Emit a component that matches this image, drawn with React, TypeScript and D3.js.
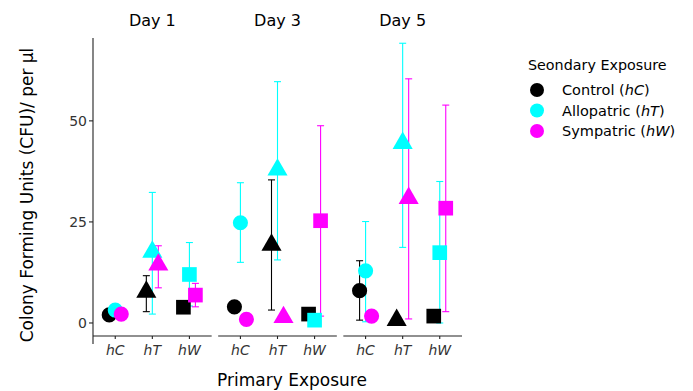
import * as d3 from "d3";

const days = ["Day 1", "Day 3", "Day 5"];
const primary = ["hC", "hT", "hW"];
const series = ["Control", "Allopatric", "Sympatric"];
const seriesCode = ["hC", "hT", "hW"];
const colors = ["#000000", "#00ffff", "#ff00ff"];

// [day][primary] means, lower and upper error bar ends (null = no bar)
const controlMean = [[2.0, 7.7, 3.9], [4.0, 19.3, 2.2], [8.0, 0.7, 1.7]];
const controlLow = [[null, 2.8, null], [null, 3.2, null], [0.7, null, null]];
const controlHigh = [[null, 11.7, null], [null, 35.4, null], [15.4, null, null]];

const alloMean = [[3.2, 17.6, 12.0], [24.8, 37.9, 0.7], [12.9, 44.5, 17.4]];
const alloLow = [[null, 2.2, 4.2], [15.0, 15.6, null], [0.3, 18.7, 0]];
const alloHigh = [[null, 32.3, 19.9], [34.7, 59.7, null], [25.1, 69.2, 35.0]];

const sympMean = [[2.2, 14.4, 6.9], [0.9, 1.4, 25.3], [1.7, 30.9, 28.4]];
const sympLow = [[null, 8.7, 4.0], [null, null, 1.7], [null, 1.0, 2.8]];
const sympHigh = [[null, 19.1, 9.8], [null, null, 48.8], [null, 60.4, 53.9]];

const yTicks = [0, 25, 50];

const means = [controlMean, alloMean, sympMean];
const lows = [controlLow, alloLow, sympLow];
const highs = [controlHigh, alloHigh, sympHigh];

type Row = { s: number; d: number; p: number; v: number; lo: number | null; hi: number | null };
const rows: Row[] = [];
series.forEach((_, s) =>
  days.forEach((_, d) =>
    primary.forEach((_, p) =>
      rows.push({ s, d, p, v: means[s][d][p], lo: lows[s][d][p], hi: highs[s][d][p] })
    )
  )
);

const FONT = "DejaVu Sans, Verdana, sans-serif";

export default function App() {
  const width = 693;
  const height = 391;
  const left = 93;
  const right = 462;
  const top = 38;
  const bottom = 344;
  const xAxisY = 336;

  const y = d3.scaleLinear().domain([-5.2, 70.5]).range([bottom, top]);
  const fx = d3.scaleBand().domain(days).range([left, right]).paddingInner(0.052);
  const bw = fx.bandwidth();
  const x = d3.scalePoint().domain(primary).range([0, bw]).padding(0.6);
  const dodge = d3.scalePoint().domain(series).range([-6, 6]);

  const shapes = [
    d3.symbol(d3.symbolCircle, 180)(),
    d3.symbol(d3.symbolTriangle, 175)(),
    d3.symbol(d3.symbolSquare, 215)(),
  ];

  const px = (r: Row) => (fx(days[r.d]) as number) + (x(primary[r.p]) as number) + (dodge(series[r.s]) as number);

  return (
    <svg width={width} height={height} style={{ position: "absolute", left: 0, top: 0 }} fontFamily={FONT}>
      <rect width={width} height={height} fill="#fff" />
      {/* strip titles */}
      {days.map((d) => (
        <text key={d} x={(fx(d) as number) + bw / 2} y={20} textAnchor="middle" dominantBaseline="central" fontSize={16}>
          {d}
        </text>
      ))}
      {/* y axis */}
      <line x1={left} x2={left} y1={top} y2={bottom} stroke="#222" strokeWidth={1.1} />
      {yTicks.map((t) => (
        <g key={t}>
          <line x1={left - 4} x2={left} y1={y(t)} y2={y(t)} stroke="#222" strokeWidth={1.1} />
          <text x={left - 6} y={y(t)} textAnchor="end" dominantBaseline="central" fontSize={14} fill="#333">
            {t}
          </text>
        </g>
      ))}
      {/* x axes */}
      {days.map((d) => (
        <g key={d} transform={`translate(${fx(d)},0)`}>
          <line x1={0} x2={bw} y1={xAxisY} y2={xAxisY} stroke="#222" strokeWidth={1.1} />
          {primary.map((p) => (
            <g key={p}>
              <line x1={x(p)} x2={x(p)} y1={xAxisY} y2={xAxisY + 3} stroke="#222" strokeWidth={1.1} />
              <text x={x(p)} y={350} textAnchor="middle" dominantBaseline="central" fontSize={14} fontStyle="italic" fill="#333">
                {p}
              </text>
            </g>
          ))}
        </g>
      ))}
      {/* error bars */}
      {rows
        .filter((r) => r.lo !== null && r.hi !== null)
        .map((r, i) => {
          const cx = px(r);
          return (
            <g key={"e" + i} stroke={colors[r.s]} strokeWidth={1.1}>
              <line x1={cx} x2={cx} y1={y(r.lo as number)} y2={y(r.hi as number)} />
              <line x1={cx - 3.5} x2={cx + 3.5} y1={y(r.lo as number)} y2={y(r.lo as number)} />
              <line x1={cx - 3.5} x2={cx + 3.5} y1={y(r.hi as number)} y2={y(r.hi as number)} />
            </g>
          );
        })}
      {/* points */}
      {rows.map((r, i) => (
        <path key={"p" + i} d={shapes[r.p] as string} transform={`translate(${px(r)},${y(r.v)})`} fill={colors[r.s]} />
      ))}
      {/* axis titles */}
      <text x={292} y={380} textAnchor="middle" dominantBaseline="central" fontSize={17}>
        Primary Exposure
      </text>
      <text transform={`translate(27,195) rotate(-90)`} textAnchor="middle" dominantBaseline="central" fontSize={17}>
        Colony Forming Units (CFU)/ per µl
      </text>
      {/* legend */}
      <text x={528} y={65} dominantBaseline="central" fontSize={14.3}>
        Seondary Exposure
      </text>
      {series.map((s, i) => (
        <g key={s} transform={`translate(0,${90 + i * 20.5})`}>
          <circle cx={537} cy={0} r={7} fill={colors[i]} />
          <text x={562} y={0} dominantBaseline="central" fontSize={14.5}>
            {s} (<tspan fontStyle="italic">{seriesCode[i]}</tspan>)
          </text>
        </g>
      ))}
    </svg>
  );
}
